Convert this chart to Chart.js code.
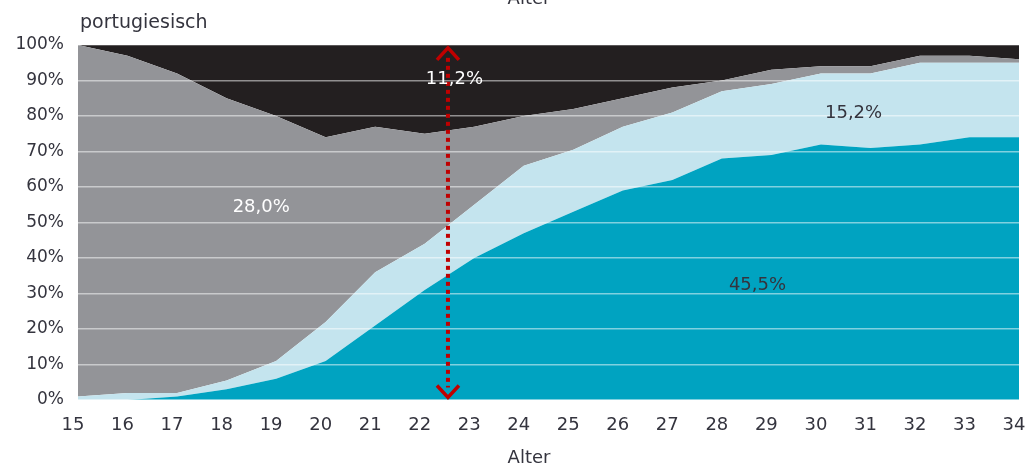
<!DOCTYPE html>
<html>
<head>
<meta charset="utf-8">
<script src="https://cdn.jsdelivr.net/npm/chart.js@4.4.1/dist/chart.umd.min.js"></script>
<style>
  html, body { margin: 0; padding: 0; background: #fff; }
  #chart { display: block; }
</style>
</head>
<body>
<canvas id="chart" width="1028" height="466"></canvas>
<script>
const FONT = "'DejaVu Sans', sans-serif";
const TEXT = '#34343e';

const AGES = ['15', '16', '17', '18', '19', '20', '21', '22', '23', '24',
              '25', '26', '27', '28', '29', '30', '31', '32', '33', '34'];
// Anteile je Alter (gestapelt auf 100 %)
const TEAL  = [0, 0, 1, 3, 6, 11, 21, 31, 40, 47, 53, 59, 62, 68, 69, 72, 71, 72, 74, 74];
const LIGHT = [1, 2, 1, 2.5, 5, 11, 15, 13, 15, 19, 17.5, 18, 19, 19, 20, 20, 21, 23, 21, 21];
const GRAY  = [99, 95, 90, 79.5, 69, 52, 41, 31, 22, 14, 11.5, 8, 7, 3, 4, 2, 2, 2, 2, 1];
const BLACK = [0, 3, 8, 15, 20, 26, 23, 25, 23, 20, 18, 15, 12, 10, 7, 6, 6, 3, 3, 4];
const Y_TICKS = [0, 10, 20, 30, 40, 50, 60, 70, 80, 90, 100];

const NOTES = [
  { text: '28,0%', age: 18.7, pct: 54.4, color: '#ffffff' },
  { text: '11,2%', age: 22.6, pct: 90.2, color: '#ffffff' },
  { text: '15,2%', age: 30.66, pct: 80.8, color: TEXT },
  { text: '45,5%', age: 28.72, pct: 32.2, color: TEXT },
];
const ARROW_AGE = 22.47;

const area = (data, color, fill) => ({
  data, fill, backgroundColor: color, borderWidth: 0, borderColor: 'transparent',
  pointRadius: 0, pointHoverRadius: 0, tension: 0,
});

const overlay = {
  id: 'overlay',
  afterDraw(chart) {
    const { ctx, scales: { x, y } } = chart;
    ctx.save();
    ctx.fillStyle = TEXT;
    ctx.font = `19px ${FONT}`;
    ctx.textAlign = 'left';
    ctx.textBaseline = 'alphabetic';
    ctx.fillText('portugiesisch', 80, 28);
    ctx.textAlign = 'center';
    ctx.font = `18px ${FONT}`;
    ctx.fillText('Alter', 529, 4);
    ctx.fillText('Alter', 529, 463);

    // red dotted double arrow
    const ax = x.getPixelForValue(ARROW_AGE - 15);
    const top = y.getPixelForValue(99.2);
    const bot = y.getPixelForValue(0.7);
    ctx.strokeStyle = '#c00000';
    ctx.lineWidth = 4;
    ctx.setLineDash([4, 4]);
    ctx.beginPath();
    ctx.moveTo(ax, top + 10);
    ctx.lineTo(ax, bot - 10);
    ctx.stroke();
    ctx.setLineDash([]);
    ctx.lineWidth = 3.5;
    ctx.beginPath();
    ctx.moveTo(ax - 11, top + 12); ctx.lineTo(ax, top); ctx.lineTo(ax + 11, top + 12);
    ctx.moveTo(ax - 11, bot - 12); ctx.lineTo(ax, bot); ctx.lineTo(ax + 11, bot - 12);
    ctx.stroke();

    ctx.font = `18px ${FONT}`;
    ctx.textBaseline = 'middle';
    NOTES.forEach(n => {
      ctx.fillStyle = n.color;
      ctx.fillText(n.text, x.getPixelForValue(n.age - 15), y.getPixelForValue(n.pct));
    });
    ctx.restore();
  },
};

new Chart(document.getElementById('chart'), {
  type: 'line',
  data: {
    labels: AGES,
    datasets: [
      area(TEAL, '#00a3c1', 'origin'),
      area(LIGHT, '#c4e4ee', '-1'),
      area(GRAY, '#939498', '-1'),
      area(BLACK, '#231f20', '-1'),
    ],
  },
  options: {
    responsive: false,
    animation: false,
    devicePixelRatio: 1,
    layout: { padding: { top: 45, right: 9, left: 0, bottom: 0 } },
    plugins: { legend: { display: false }, tooltip: { enabled: false } },
    scales: {
      x: {
        offset: false,
        grid: { display: false },
        border: { display: false },
        ticks: { color: TEXT, font: { family: FONT, size: 18 }, padding: 7, labelOffset: -5, maxRotation: 0, autoSkip: false },
        afterFit: s => { s.height = 66; s.paddingLeft = 0; s.paddingRight = 0; },
      },
      y: {
        stacked: true,
        min: 0,
        max: 100,
        afterBuildTicks: s => { s.ticks = Y_TICKS.map(v => ({ value: v })); },
        grid: { color: 'rgba(255,255,255,0.5)', lineWidth: 1.5, drawTicks: false, z: 1 },
        border: { display: false },
        ticks: { color: TEXT, font: { family: FONT, size: 17 }, padding: 14, callback: v => v + '%' },
        afterFit: s => { s.width = 78; s.paddingTop = 0; s.paddingBottom = 0; },
      },
    },
  },
  plugins: [overlay],
});
</script>
</body>
</html>
